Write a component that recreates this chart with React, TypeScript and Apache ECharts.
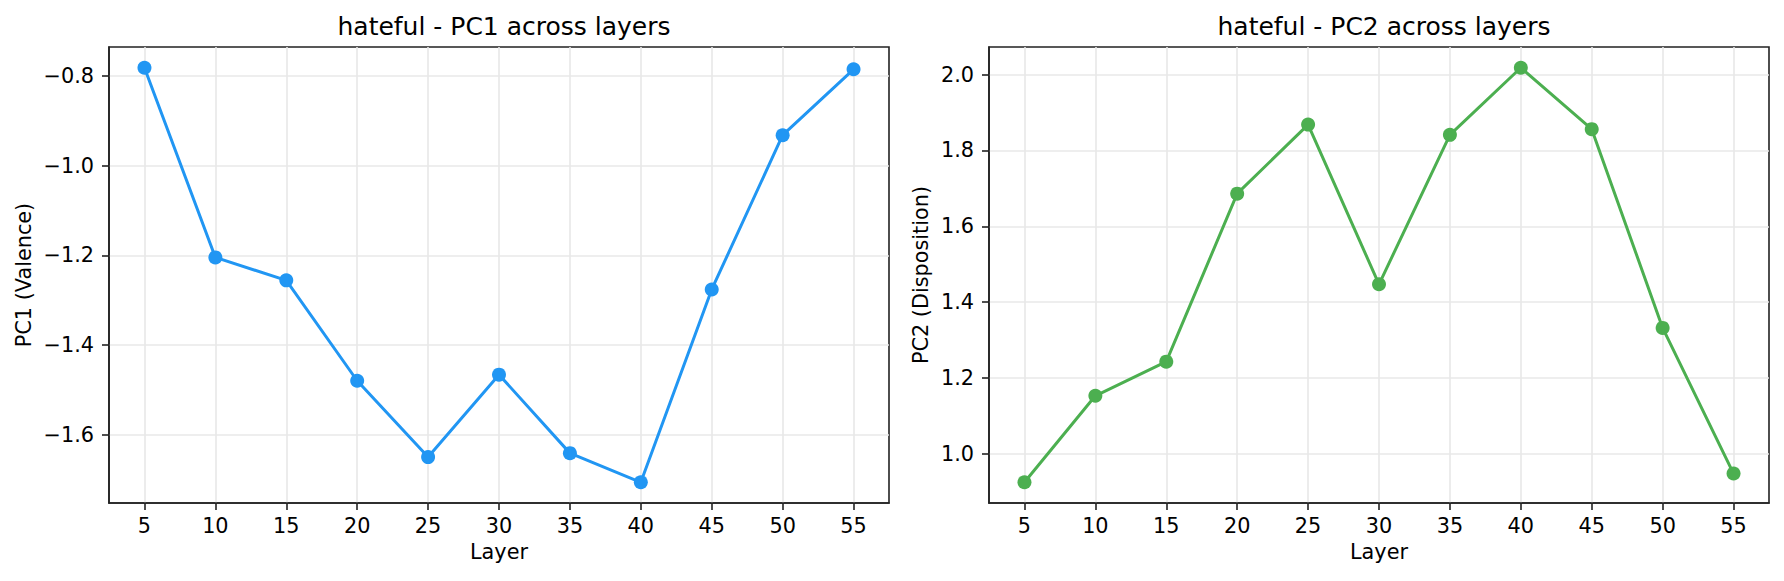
import React, { useEffect, useRef } from "react";
import * as echarts from "echarts";

const layers = [5, 10, 15, 20, 25, 30, 35, 40, 45, 50, 55];
const pc1Values = [-0.7815, -1.2045, -1.2557, -1.4796, -1.6498, -1.466, -1.641, -1.706, -1.276, -0.932, -0.785];
const pc2Values = [0.925, 1.153, 1.243, 1.686, 1.868, 1.447, 1.841, 2.018, 1.856, 1.332, 0.948];
const xTicks = [5, 10, 15, 20, 25, 30, 35, 40, 45, 50, 55];
const pc1Ticks = [-1.6, -1.4, -1.2, -1.0, -0.8];
const pc2Ticks = [1.0, 1.2, 1.4, 1.6, 1.8, 2.0];
const titles = ["hateful - PC1 across layers", "hateful - PC2 across layers"];
const yNames = ["PC1 (Valence)", "PC2 (Disposition)"];
const colors = ["#2196F3", "#4CAF50"];

const FONT = "DejaVu Sans";

function padRange(vals: number[]): [number, number] {
  const mn = Math.min(...vals);
  const mx = Math.max(...vals);
  const m = (mx - mn) * 0.05;
  return [mn - m, mx + m];
}

const fmt = (v: number) => v.toFixed(1).replace("-", "\u2212");

export default function App() {
  const ref = useRef<HTMLDivElement>(null);
  useEffect(() => {
    if (!ref.current) return;
    const chart = echarts.init(ref.current, null, { renderer: "svg" });
    const xr = padRange(layers);
    const grids = [
      { left: 109, top: 47, width: 780, height: 456 },
      { left: 989, top: 47, width: 780, height: 456 },
    ];
    const yData = [pc1Values, pc2Values];
    const yTicks = [pc1Ticks, pc2Ticks];
    const yNameGaps = [75, 58];
    const axisColor = "#222";
    const gridColor = "#e8e8e8";
    const option: any = {
      animation: false,
      backgroundColor: "#fff",
      title: grids.map((g, i) => ({
        text: titles[i],
        left: g.left + g.width / 2,
        top: 9,
        textAlign: "center",
        textStyle: { fontFamily: FONT, fontSize: 25, fontWeight: "normal", color: "#000" },
      })),
      grid: grids.map((g) => ({
        ...g,
        show: true,
        borderColor: axisColor,
        borderWidth: 1.6,
        backgroundColor: "transparent",
      })),
      xAxis: grids.map((_, i) => ({
        type: "value",
        gridIndex: i,
        min: xr[0],
        max: xr[1],
        name: "Layer",
        nameLocation: "middle",
        nameGap: 38,
        nameTextStyle: { fontFamily: FONT, fontSize: 20.8, color: "#000" },
        axisLine: { show: true, lineStyle: { color: axisColor, width: 1.6 } },
        axisTick: { show: true, length: 7, inside: false, customValues: xTicks, lineStyle: { color: axisColor, width: 1.6 } },
        axisLabel: { customValues: xTicks, margin: 12, fontFamily: FONT, fontSize: 20.8, color: "#000" },
        splitLine: { show: true, lineStyle: { color: gridColor, width: 1.6 } },
      })),
      yAxis: grids.map((_, i) => {
        const yr = padRange(yData[i]);
        return {
          type: "value",
          gridIndex: i,
          min: yr[0],
          max: yr[1],
          name: yNames[i],
          nameLocation: "middle",
          nameRotate: 90,
          nameGap: yNameGaps[i],
          nameTextStyle: { fontFamily: FONT, fontSize: 20.8, color: "#000" },
          axisLine: { show: true, lineStyle: { color: axisColor, width: 1.6 } },
          axisTick: { show: true, length: 7, inside: false, customValues: yTicks[i], lineStyle: { color: axisColor, width: 1.6 } },
          axisLabel: { customValues: yTicks[i], margin: 15, fontFamily: FONT, fontSize: 20.8, color: "#000", formatter: fmt },
          splitLine: { show: true, lineStyle: { color: gridColor, width: 1.6 } },
        };
      }),
      series: yData.map((vals, i) => ({
        type: "line",
        xAxisIndex: i,
        yAxisIndex: i,
        data: layers.map((l, k) => [l, vals[k]]),
        symbol: "circle",
        symbolSize: 14,
        showSymbol: true,
        lineStyle: { color: colors[i], width: 3 },
        itemStyle: { color: colors[i] },
      })),
    };
    chart.setOption(option);
    return () => chart.dispose();
  }, []);
  return (
    <div
      ref={ref}
      style={{ position: "fixed", left: 0, top: 0, width: 1784, height: 581, background: "#fff" }}
    />
  );
}
